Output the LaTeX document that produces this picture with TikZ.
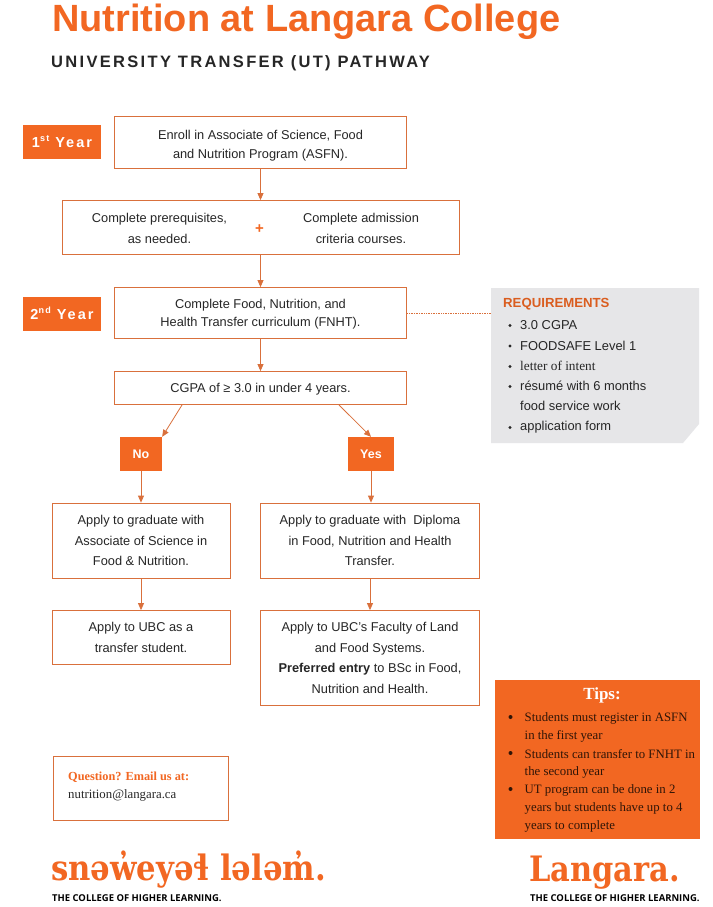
\documentclass[tikz,border=0pt]{standalone}
\usepackage{fontspec}
\setmainfont{Liberation Sans}
\newfontfamily\serifface{Liberation Serif}
\newfontfamily\slabface{DejaVu Serif}
\newfontfamily\trackface[LetterSpace=14]{Liberation Sans}
\newfontfamily\trackwide[LetterSpace=14]{Liberation Sans}
\newfontfamily\logoline{Open Sans}
\usetikzlibrary{arrows.meta}
\definecolor{lorange}{HTML}{F26722}
\definecolor{lline}{HTML}{D9703C}
\definecolor{ltext}{HTML}{262626}
\definecolor{lgrey}{HTML}{E6E6E8}
\tikzset{
  x=1pt,y=-1pt,
  flowbox/.style={draw=lline,line width=0.8pt,fill=white,align=center,text=ltext,font=\fontsize{12.8}{20.5}\selectfont,inner sep=0pt},
  yearbox/.style={fill=lorange,text=white,font=\fontsize{14.5}{16}\selectfont\bfseries\trackwide,minimum width=78pt,minimum height=34pt,inner sep=0pt},
  decbox/.style={fill=lorange,text=white,font=\fontsize{12.5}{14}\bfseries\selectfont,minimum width=46pt,minimum height=34pt,inner sep=0pt},
  flow/.style={draw=lline,line width=0.8pt,-{Triangle[length=7pt,width=6pt]}},
  plain/.style={text=ltext,font=\fontsize{12.8}{20.5}\selectfont,inner sep=0pt,align=center},
  lefttext/.style={anchor=west,inner sep=0pt,text=ltext},
  logotext/.style={anchor=base west,inner sep=0pt,text=lorange},
}
\begin{document}
\begin{tikzpicture}
\useasboundingbox (0,0) rectangle (712,907);
\fill[white] (0,0) rectangle (712,907);
% titles
\node[lefttext,text=lorange,font=\fontsize{37.95}{40}\bfseries\selectfont] (title) at (52,22) {Nutrition at Langara College};
\node[lefttext,text=black!85,font=\fontsize{16.5}{18}\bfseries\trackface] (subtitle) at (51,63) {UNIVERSITY TRANSFER (UT) PATHWAY};
% year tags
\node[yearbox] (y1) at (62,141.5) {1\raisebox{0.45em}{\fontsize{9}{9}\selectfont st} Year};
\node[yearbox] (y2) at (62,313.5) {2\raisebox{0.45em}{\fontsize{9}{9}\selectfont nd} Year};
% flow boxes
\node[flowbox,font=\fontsize{12.8}{19}\selectfont,minimum width=292.5pt,minimum height=52pt] (enroll) at (260.5,142.5) {\rule{0pt}{16pt}Enroll in Associate of Science, Food\\and Nutrition Program (ASFN).};
\node[flowbox,minimum width=397pt,minimum height=54pt] (prereq) at (260.5,227.5) {};
\node[plain] (pre) at (159.5,228.5) {Complete prerequisites,\\as needed.};
\node[plain] (adm) at (361,228.5) {Complete admission\\criteria courses.};
\node[text=lorange,font=\fontsize{15}{16}\bfseries\selectfont,inner sep=0pt] (plus) at (259.5,229) {+};
\node[flowbox,font=\fontsize{12.8}{18}\selectfont,minimum width=292.5pt,minimum height=51pt] (fnht) at (260.5,313) {\rule{0pt}{12.5pt}Complete Food, Nutrition, and\\Health Transfer curriculum (FNHT).};
\node[flowbox,minimum width=292.5pt,minimum height=33pt] (cgpa) at (260.5,388) {\rule{0pt}{11.5pt}CGPA of ≥ 3.0 in under 4 years.};
\node[decbox,minimum width=42pt] (no) at (141,454) {No};
\node[decbox] (yes) at (371,454) {Yes};
\node[flowbox,minimum width=178pt,minimum height=75pt] (gradno) at (141,540.5) {Apply to graduate with\\Associate of Science in\\Food \& Nutrition.};
\node[flowbox,minimum width=219pt,minimum height=75pt] (gradyes) at (370,540.5) {Apply to graduate with\ \ Diploma\\in Food, Nutrition and Health\\Transfer.};
\node[flowbox,minimum width=178pt,minimum height=54pt] (ubcno) at (141,637.5) {Apply to UBC as a\\transfer student.};
\node[flowbox,minimum width=219pt,minimum height=95pt] (ubcyes) at (370,658) {Apply to UBC’s Faculty of Land\\and Food Systems.\\\textbf{Preferred entry} to BSc in Food,\\Nutrition and Health.};
% connectors
\coordinate (cgpal) at (182,405);
\coordinate (cgpar) at (339,405);
\draw[flow] (enroll.south) -- (prereq.north);
\draw[flow] (prereq.south) -- (fnht.north);
\draw[flow] (fnht.south) -- (cgpa.north);
\draw[flow] (cgpal) -- (no.north east);
\draw[flow] (cgpar) -- (yes.north);
\draw[flow] (no.south) -- (gradno.north);
\draw[flow] (yes.south) -- (yes.south |- gradyes.north);
\draw[flow] (gradno.south) -- (ubcno.north);
\draw[flow] (gradyes.south) -- (ubcyes.north);
% requirements panel
\fill[lgrey] (491,288) -- (699,288) -- (699,424) -- (683,443) -- (491,443) -- cycle;
\coordinate (reqedge) at (491,313);
\draw[lline,line width=0.7pt,densely dotted] (fnht.east) -- (reqedge);
\node[lefttext,text=lorange!90!black,font=\fontsize{13.2}{14}\bfseries\selectfont] (reqtitle) at (503,304) {REQUIREMENTS};
\foreach \yy/\tt/\nm in {325/3.0 CGPA/a,345.5/FOODSAFE Level 1/b,386/résumé with 6 months/d,427/application form/f}{
  \node[lefttext,font=\fontsize{12.9}{14}\selectfont] (req\nm) at (520,\yy) {\tt};
  \fill[ltext] (510,\yy+0.5) circle (1.6pt);
}
\node[lefttext,font=\fontsize{13.3}{14}\serifface\selectfont] (reqc) at (520,366) {letter of intent};
\fill[ltext] (510,366.5) circle (1.6pt);
\node[lefttext,font=\fontsize{12.9}{14}\selectfont] (reqe) at (520,406) {food service work};
% tips
\fill[lorange] (495,680) rectangle (700,839);
\node[text=white,font=\fontsize{17}{18}\bfseries\serifface\selectfont,inner sep=0pt] (tips) at (602,695.5) {Tips:};
\foreach \yy in {717,753,789}{
  \fill[black!80!lorange] (510.5,\yy) circle (2pt);
}
\foreach \yy/\tt/\nm in {718/Students must register in ASFN/a,736/in the first year/b,754/Students can transfer to FNHT in/c,772/the second year/d,790/UT program can be done in 2/e,808/years but students have up to 4/f,826/years to complete/g}{
  \node[lefttext,text=black!80!lorange,font=\fontsize{12.8}{14}\serifface\selectfont] (tip\nm) at (524.5,\yy) {\tt};
}
% question box
\node[draw=lline,line width=0.8pt,minimum width=175pt,minimum height=64pt,inner sep=0pt] (qbox) at (140.5,788.5) {};
\node[lefttext,text=lorange,font=\fontsize{12.3}{14}\bfseries\serifface\selectfont] (q1) at (68,777) {Question? Email us at:};
\node[lefttext,font=\fontsize{12.8}{14}\serifface\selectfont] (q2) at (68,795.5) {nutrition@langara.ca};
% logos
\node[logotext,font=\fontsize{35}{38}\bfseries\slabface\selectfont] (logoa) at (51,880) {\scalebox{0.878}[1]{sn\char"0259w\char"0313 ey\char"0259\char"026C\ l\char"0259l\char"0259m\char"0313 .}};
\node[lefttext,text=black,font=\fontsize{9.45}{10}\logoline\selectfont\bfseries] (taga) at (52,898) {THE COLLEGE OF HIGHER LEARNING.};
\node[logotext,font=\fontsize{35}{38}\bfseries\slabface\selectfont] (logob) at (529,881) {\scalebox{0.87}[1]{Langara.}};
\node[lefttext,text=black,font=\fontsize{9.45}{10}\logoline\selectfont\bfseries] (tagb) at (530,898) {THE COLLEGE OF HIGHER LEARNING.};
\end{tikzpicture}
\end{document}
